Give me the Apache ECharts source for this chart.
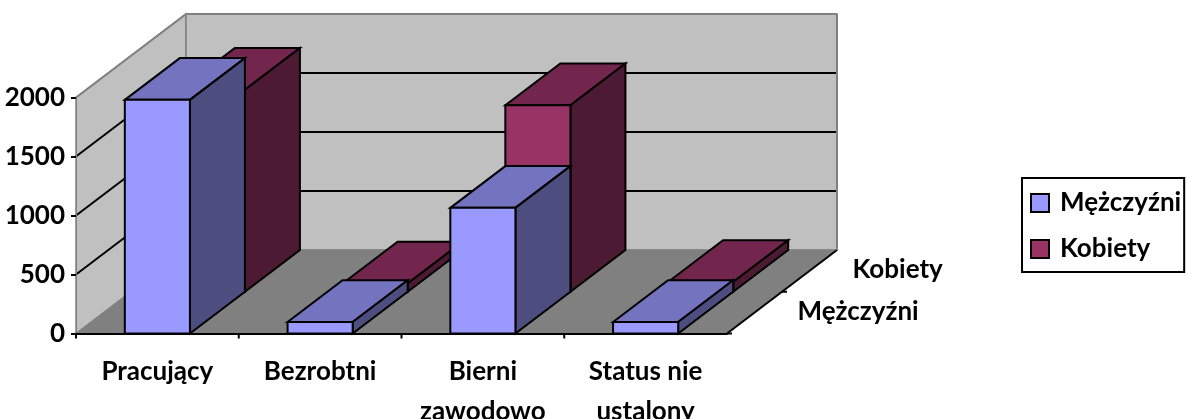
<!DOCTYPE html>
<html><head><meta charset="utf-8">
<style>html,body{margin:0;padding:0;background:#fff}#c{width:1188px;height:419px}</style>
<script src="https://cdn.jsdelivr.net/npm/echarts@6/dist/echarts.min.js"></script>
</head><body><div id="c"></div>
<script>
const categories = ['Pracujący', 'Bezrobtni', 'Bierni\nzawodowo', 'Status nie\nustalony'];
const depthCategories = ['Mężczyźni', 'Kobiety'];
const valuesMen = [1980, 97, 1065, 97];
const valuesWomen = [1712, 70, 1580, 83];
const yTicks = [0, 500, 1000, 1500, 2000];

const DEPTH_X = 110, DEPTH_Y = -83.5;
const FONT = 'Lato';
const FONT_SIZE = 26;
const chart = echarts.init(document.getElementById('c'), null, {renderer: 'canvas'});

function project(api, cat, value, z, side) {
  const p = api.coord([cat, value]);
  const band = api.size([1, 0])[0];
  return [p[0] + side * band + z * DEPTH_X, p[1] + z * DEPTH_Y];
}
function poly(points, fill, stroke, width) {
  return {type: 'polygon', shape: {points}, style: {fill, stroke, lineWidth: width, lineJoin: 'miter'}};
}
function seg(a, b, stroke, width) {
  return {type: 'line', shape: {x1: a[0], y1: a[1], x2: b[0], y2: b[1]}, style: {stroke, lineWidth: width}};
}
function wallsItem(params, api) {
  const top = yTicks[yTicks.length - 1], last = categories.length - 1;
  const fl = project(api, 0, 0, 0, -0.5), fr = project(api, last, 0, 0, 0.5);
  const bl = project(api, 0, 0, 1, -0.5), br = project(api, last, 0, 1, 0.5);
  const tl = project(api, 0, top, 1, -0.5), tr = project(api, last, top, 1, 0.5);
  const ftl = project(api, 0, top, 0, -0.5);
  const children = [
    poly([ftl, tl, bl, fl], '#C0C0C0', '#808080', 1.5),
    poly([tl, tr, br, bl], '#C0C0C0', '#808080', 1.5),
    poly([fl, bl, br, fr], '#808080', '#808080', 1),
    seg(fr, br, '#000', 2)
  ];
  yTicks.slice(1, -1).forEach(v => {
    const a = project(api, 0, v, 0, -0.5), b = project(api, 0, v, 1, -0.5), c = project(api, last, v, 1, 0.5);
    children.push(seg(a, b, '#000', 2), seg(b, c, '#000', 2));
  });
  children.push(seg(ftl, tl, '#808080', 2), seg(tl, tr, '#808080', 2), seg(tr, br, '#808080', 2));
  categories.forEach((c, i) => {
    const p = project(api, i, 0, 0, -0.5);
    children.push(seg(p, [p[0], p[1] + 5], '#000', 2));
  });
  [0, 0.5].forEach(z => {
    const p = project(api, last, 0, z, 0.5);
    children.push(seg(p, [p[0] + 5, p[1]], '#000', 2));
  });
  depthCategories.forEach((name, i) => {
    const p = project(api, last, 0, (i + 0.5) / depthCategories.length, 0.5);
    children.push({type: 'text', style: {text: name, x: p[0] + 43, y: p[1] - 1, align: 'left', verticalAlign: 'middle',
      font: 'bold ' + FONT_SIZE + 'px ' + FONT, fill: '#000'}});
  });
  return {type: 'group', children};
}
function barItem(row, front, top, side) {
  return function (params, api) {
    const cat = api.value(0), v = api.value(1);
    const hw = 0.2, z0 = row / 2, z1 = (row + 1) / 2;
    const f = (val, z, s) => project(api, cat, val, z, s);
    return {type: 'group', children: [
      poly([f(v, z0, -hw), f(v, z1, -hw), f(v, z1, hw), f(v, z0, hw)], top, '#000', 2),
      poly([f(0, z0, hw), f(v, z0, hw), f(v, z1, hw), f(0, z1, hw)], side, '#000', 2),
      poly([f(0, z0, -hw), f(v, z0, -hw), f(v, z0, hw), f(0, z0, hw)], front, '#000', 2)
    ]};
  };
}
const txt = {fontFamily: FONT, fontWeight: 'bold', fontSize: FONT_SIZE, color: '#000'};
chart.setOption({
  animation: false,
  backgroundColor: '#fff',
  grid: {left: 76, top: 97.5, width: 651, height: 236, outerBoundsMode: 'none', containLabel: false},
  legend: {
    data: ['Mężczyźni', 'Kobiety'], left: 1022, top: 178, orient: 'vertical', icon: 'rect',
    itemWidth: 18, itemHeight: 18, itemGap: 20, padding: [12, 3, 10, 8],
    borderColor: '#000', borderWidth: 2,
    textStyle: Object.assign({}, txt, {padding: [0, 0, 0, 6], lineHeight: 26}),
    itemStyle: {borderColor: '#000', borderWidth: 2}
  },
  xAxis: {type: 'category', data: categories, z: 10,
    axisLine: {lineStyle: {color: '#000', width: 2}}, axisTick: {show: false},
    axisLabel: Object.assign({}, txt, {margin: 18, lineHeight: 40, interval: 0})},
  yAxis: {type: 'value', min: 0, max: 2000, interval: 500, z: 10,
    splitLine: {show: false},
    axisLine: {show: true, lineStyle: {color: '#808080', width: 1}},
    axisTick: {show: true, length: 5, lineStyle: {color: '#000', width: 2}},
    axisLabel: Object.assign({}, txt, {margin: 11, formatter: v => String(v)})},
  series: [
    {type: 'custom', name: 'walls', silent: true, data: [[0, 0]], encode: {x: 0, y: 1}, renderItem: wallsItem, z: 1},
    {type: 'custom', name: 'Kobiety', itemStyle: {color: '#993366'}, encode: {x: 0, y: 1}, z: 2,
      data: valuesWomen.map((v, i) => [i, v]), renderItem: barItem(1, '#993366', '#73264D', '#4D1A33')},
    {type: 'custom', name: 'Mężczyźni', itemStyle: {color: '#9999FF'}, encode: {x: 0, y: 1}, z: 3,
      data: valuesMen.map((v, i) => [i, v]), renderItem: barItem(0, '#9999FF', '#7373BF', '#4D4D80')}
  ]
});
</script></body></html>
